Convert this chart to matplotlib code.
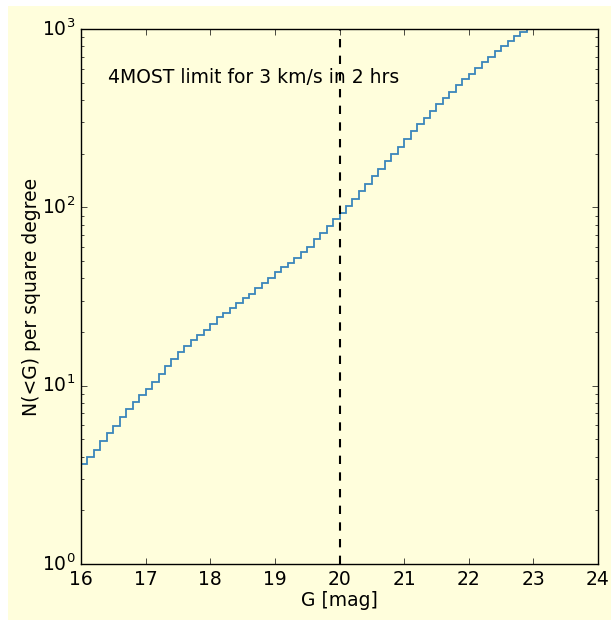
import matplotlib
matplotlib.use("Agg")
import matplotlib.pyplot as plt
import numpy as np
from matplotlib.patches import Rectangle

plt.style.use("classic")

# cumulative star counts per square degree in 0.1 mag bins, G = 16.0 ... 23.0
g_edges = np.round(np.arange(16.0, 23.01, 0.1), 1)
n_cum = [
    3.64, 3.96, 4.36, 4.88, 5.43, 5.96, 6.65, 7.40, 8.13, 8.90,
    9.62, 10.5, 11.7, 12.9, 14.2, 15.5, 16.8, 18.1, 19.2, 20.6,
    22.2, 24.2, 25.5, 27.4, 29.0, 30.9, 32.8, 35.2, 37.5, 40.3,
    43.2, 46.5, 48.5, 52.2, 56.0, 60.1, 66.2, 72.1, 78.6, 86.0,
    92.6, 102, 111, 124, 136, 149, 164, 181, 199, 219,
    242, 268, 293, 318, 348, 380, 409, 445, 484, 522,
    559, 605, 650, 700, 750, 800, 855, 917, 966, 1030,
]
g_limit = 20.0
limit_label = "4MOST limit for 3 km/s in 2 hrs"

bg = "#fffedc"
fs = 13.5

fig = plt.figure(figsize=(6.11, 6.2), dpi=100, facecolor="white")
fig.patches.append(Rectangle((8 / 611, 0), 1 - 8 / 611, 1 - 6 / 620,
                             transform=fig.transFigure, facecolor=bg,
                             edgecolor="none", zorder=-10))
ax = fig.add_axes([0.1326, 0.0903, 0.8461, 0.8629])
ax.set_facecolor(bg)

ax.stairs(n_cum, g_edges, baseline=None, color="#3a86bb", linewidth=1.3)
ax.axvline(g_limit, color="black", linestyle="--", linewidth=1.5)
ax.text(16.42, 538, limit_label, fontsize=fs, va="center", ha="left")

ax.set_yscale("log")
ax.set_xlim(16, 24)
ax.set_ylim(1, 1000)
ax.set_xticks(np.arange(16, 25, 1))
ax.set_xlabel("G [mag]", fontsize=fs, labelpad=2)
ax.set_ylabel("N(<G) per square degree", fontsize=fs, labelpad=1)
ax.tick_params(labelsize=fs)

fig.savefig("out.png", dpi=100, facecolor=fig.get_facecolor())
